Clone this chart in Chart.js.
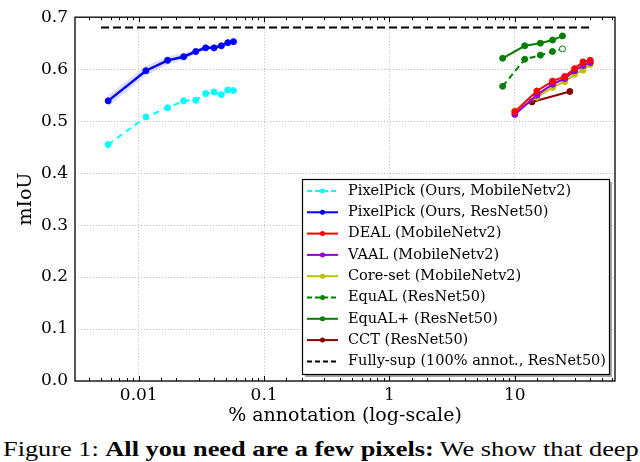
<!DOCTYPE html>
<html>
<head>
<meta charset="utf-8">
<script src="https://cdn.jsdelivr.net/npm/chart.js@4/dist/chart.umd.min.js"></script>
<style>
  html, body { margin: 0; padding: 0; background: #fff; }
  #wrap { position: relative; width: 640px; height: 462px; overflow: hidden; }
  #chart-box { position: absolute; left: 0; top: 0; width: 640px; height: 430px; }
  #caption {
    position: absolute; left: 3px; top: 436px; white-space: nowrap;
    font-family: "Liberation Serif", serif; font-size: 22px; color: #000;
    transform: scaleX(1.196); transform-origin: left top;
  }
</style>
</head>
<body>
<div id="wrap">
  <div id="chart-box"><canvas id="chart" width="640" height="430"></canvas></div>
  <div id="caption">Figure 1: <b>All you need are a few pixels:</b> We show that deep</div>
</div>
<script>
// % annotation (x) and mIoU (y)
const pixelX = [0.0057, 0.0114, 0.017, 0.0228, 0.0285, 0.0342, 0.0399, 0.0456, 0.0513, 0.057];
const pixelMobile = [0.455, 0.508, 0.526, 0.539, 0.540, 0.553, 0.556, 0.551, 0.560, 0.559];
const pixelResnet = [0.539, 0.597, 0.617, 0.624, 0.634, 0.641, 0.641, 0.645, 0.651, 0.653];
const resnetUpper = [0.550, 0.606, 0.625, 0.630, 0.639, 0.645, 0.645, 0.649, 0.655, 0.657];
const resnetLower = [0.528, 0.588, 0.609, 0.618, 0.629, 0.637, 0.637, 0.641, 0.647, 0.649];

const alX = [10, 15, 20, 25, 30, 35, 40];
const deal = [0.518, 0.558, 0.577, 0.586, 0.601, 0.614, 0.617];
const vaal = [0.513, 0.550, 0.571, 0.582, 0.597, 0.607, 0.613];
const coreset = [0.520, 0.546, 0.565, 0.576, 0.590, 0.598, 0.609];

const equalX = [8, 12, 16, 20, 24];
const equal = [0.567, 0.619, 0.627, 0.634, 0.639];
const equalPlus = [0.621, 0.645, 0.650, 0.656, 0.664];

const cctX = [13.7, 27.5];
const cct = [0.537, 0.557];

const fullX = [0.005, 40];
const fullSup = [0.68, 0.68];

const yTicks = [0, 0.1, 0.2, 0.3, 0.4, 0.5, 0.6, 0.7];

const labels = [
  "PixelPick (Ours, MobileNetv2)",
  "PixelPick (Ours, ResNet50)",
  "DEAL (MobileNetv2)",
  "VAAL (MobileNetv2)",
  "Core-set (MobileNetv2)",
  "EquAL (ResNet50)",
  "EquAL+ (ResNet50)",
  "CCT (ResNet50)",
  "Fully-sup (100% annot., ResNet50)"
];

const serif = "'DejaVu Serif', serif";

function pts(xs, ys) {
  return xs.map((x, i) => ({ x: x, y: ys[i] }));
}

function series(label, xs, ys, color, opts) {
  return Object.assign({
    label: label,
    data: pts(xs, ys),
    borderColor: color,
    backgroundColor: color,
    pointBackgroundColor: color,
    pointBorderColor: color,
    borderWidth: 2,
    pointRadius: 3,
    pointBorderWidth: 1,
    tension: 0,
    fill: false
  }, opts || {});
}

const datasets = [
  series(labels[0], pixelX, pixelMobile, "#00ffff", { borderDash: [6, 5] }),
  series(labels[1], pixelX, pixelResnet, "#0000ff", { borderWidth: 2.5 }),
  series(labels[2], alX, deal, "#ff0000"),
  series(labels[3], alX, vaal, "#9400d3"),
  series(labels[4], alX, coreset, "#bfbf00"),
  series(labels[5], equalX, equal, "#008000", {
    borderDash: [6, 4],
    pointBackgroundColor: ["#008000", "#008000", "#008000", "#008000", "#ffffff"]
  }),
  series(labels[6], equalX, equalPlus, "#008000"),
  series(labels[7], cctX, cct, "#8b0000"),
  series(labels[8], fullX, fullSup, "#000000", { borderDash: [8, 4], pointRadius: 0 }),
  // shaded band around the ResNet50 curve
  { label: "band-low", data: pts(pixelX, resnetLower), borderWidth: 0, pointRadius: 0, fill: false, borderColor: "rgba(0,0,0,0)" },
  { label: "band-high", data: pts(pixelX, resnetUpper), borderWidth: 0, pointRadius: 0, fill: "-1",
    borderColor: "rgba(0,0,0,0)", backgroundColor: "rgba(100,100,255,0.22)" }
];

function isDecade(v) {
  const l = Math.log10(v);
  return Math.abs(l - Math.round(l)) < 1e-6;
}

const framePlugin = {
  id: "frame",
  afterDraw(chart) {
    const ctx = chart.ctx;
    const a = chart.chartArea;
    const xs = chart.scales.x;
    ctx.save();
    // inward ticks on the log axis
    ctx.strokeStyle = "#000";
    ctx.lineWidth = 1;
    xs.ticks.forEach(t => {
      const px = Math.round(xs.getPixelForValue(t.value)) + 0.5;
      if (px <= a.left + 1 || px >= a.right - 1) return;
      const len = isDecade(t.value) ? 5 : 3;
      ctx.beginPath();
      ctx.moveTo(px, a.bottom); ctx.lineTo(px, a.bottom - len);
      ctx.moveTo(px, a.top); ctx.lineTo(px, a.top + len);
      ctx.stroke();
    });
    // frame
    ctx.lineWidth = 1.3;
    ctx.strokeRect(a.left, a.top, a.right - a.left, a.bottom - a.top);

    // legend
    const lx = 302, ly = 179, lw = 307, lh = 195;
    ctx.fillStyle = "rgba(0,0,0,0.35)";
    ctx.fillRect(lx + 3, ly + 3, lw, lh);
    ctx.fillStyle = "#fff";
    ctx.fillRect(lx, ly, lw, lh);
    ctx.lineWidth = 1.2;
    ctx.strokeStyle = "#000";
    ctx.strokeRect(lx + 0.5, ly + 0.5, lw, lh);
    ctx.font = "14.5px " + serif;
    ctx.textBaseline = "middle";
    ctx.textAlign = "left";
    for (let i = 0; i < labels.length; i++) {
      const ds = chart.data.datasets[i];
      const y = 191 + i * 21.3;
      ctx.strokeStyle = ds.borderColor;
      ctx.lineWidth = 2;
      ctx.setLineDash(ds.borderDash ? [5, 3] : []);
      ctx.beginPath();
      ctx.moveTo(307, y); ctx.lineTo(338, y);
      ctx.stroke();
      ctx.setLineDash([]);
      if (ds.pointRadius > 0) {
        ctx.fillStyle = ds.borderColor;
        ctx.beginPath();
        ctx.arc(322.5, y, 2.5, 0, Math.PI * 2);
        ctx.fill();
      }
      ctx.fillStyle = "#000";
      ctx.fillText(ds.label, 348, y);
    }
    ctx.restore();
  }
};

const chart = new Chart(document.getElementById("chart").getContext("2d"), {
  type: "line",
  data: { datasets: datasets },
  options: {
    responsive: false,
    animation: false,
    events: [],
    layout: { padding: { left: 0, right: 25, top: 7, bottom: 0 } },
    plugins: { legend: { display: false }, tooltip: { enabled: false } },
    scales: {
      x: {
        type: "logarithmic",
        min: 0.0031,
        max: 63,
        afterFit(scale) { scale.height = 49; },
        grid: {
          drawTicks: false,
          color: ctx => (ctx.tick && isDecade(ctx.tick.value)) ? "#bdbdbd" : "rgba(0,0,0,0)",
          lineWidth: 1
        },
        border: { display: false, dash: [1, 2] },
        ticks: {
          autoSkip: false,
          maxRotation: 0,
          padding: 4,
          color: "#000",
          font: { family: serif, size: 17 },
          callback: v => isDecade(v) ? String(v) : ""
        },
        title: {
          display: true,
          text: "% annotation (log-scale)",
          color: "#000",
          font: { family: serif, size: 19 },
          padding: { top: 0, bottom: 3 }
        }
      },
      y: {
        min: 0,
        max: 0.7,
        afterFit(scale) { scale.width = 75; },
        afterBuildTicks(scale) { scale.ticks = yTicks.map(v => ({ value: v })); },
        grid: { drawTicks: false, color: "#bdbdbd", lineWidth: 1 },
        border: { display: false, dash: [1, 2] },
        ticks: {
          padding: 7,
          color: "#000",
          font: { family: serif, size: 17 },
          callback: v => Number(v).toFixed(1)
        },
        title: {
          display: true,
          text: "mIoU",
          color: "#000",
          font: { family: serif, size: 19 },
          padding: { top: 15, bottom: 0 }
        }
      }
    }
  },
  plugins: [framePlugin]
});
</script>
</body>
</html>
